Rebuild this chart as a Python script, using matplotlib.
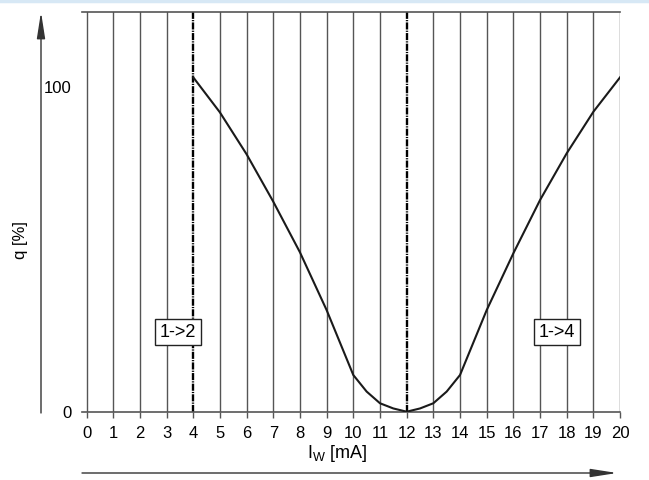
import matplotlib.pyplot as plt
import matplotlib.lines as mlines

# curve (q in % vs I_W in mA)
current_ma = [4, 5, 6, 7, 8, 9, 10, 10.5, 11, 11.5, 12, 12.5, 13, 13.5, 14, 15, 16, 17, 18, 19, 20]
q_percent = [103, 92.2, 79.3, 64.7, 49.1, 31.3, 11.3, 6.2, 2.6, 1.0, 0, 1.0, 2.6, 6.2, 11.3, 31.3, 48.8, 65.2, 79.6, 92.4, 103]

x_ticks = list(range(0, 21))
y_ticks = [0, 100]
dashed_at = [4, 12]
box_labels = ["1->2", "1->4"]
box_x = [3.43, 17.64]
box_y = [24.5, 24.5]

plt.rcParams['font.family'] = ['Liberation Sans', 'DejaVu Sans']

fig = plt.figure(figsize=(6.49, 4.8), dpi=100)
ax = fig.add_axes([81.7 / 649, (480 - 411.7) / 480, (620.1 - 81.7) / 649, 400 / 480])
ax.set_xlim(-0.18, 20.0)
ax.set_ylim(0, 123.2)

# vertical grid, thick dash-dot at the switch points
for xv in x_ticks:
    if xv in dashed_at:
        ax.axvline(xv, color='black', lw=1.7, ls=(0, (3, 0.5, 0.5, 0.5)), zorder=2)
    else:
        ax.axvline(xv, color='#555555', lw=1.0, zorder=1)

ax.plot(current_ma, q_percent, color='#1a1a1a', lw=1.5, zorder=3)

for lab, bx, by in zip(box_labels, box_x, box_y):
    ax.text(bx, by, lab, ha='center', va='center', fontsize=13, zorder=4,
            bbox=dict(boxstyle='square,pad=0.25', fc='white', ec='#222222', lw=1.0))

for side in ['left', 'right']:
    ax.spines[side].set_visible(False)
for side in ['top', 'bottom']:
    ax.spines[side].set_color('#555555')
    ax.spines[side].set_linewidth(1.2)

ax.set_xticks(x_ticks)
ax.set_xticklabels([str(v) for v in x_ticks])
ax.set_yticks(y_ticks)
ax.set_yticklabels([str(v) for v in y_ticks])
ax.tick_params(axis='x', direction='out', length=4, width=1.0, color='#555555', labelsize=12, pad=6)
ax.tick_params(axis='y', length=0, labelsize=12, pad=7)

# axis arrows outside the plot area
ax.annotate('', xy=(41, 468), xytext=(41, 67), xycoords='figure pixels', textcoords='figure pixels',
            arrowprops=dict(arrowstyle='-|>,head_length=1.6,head_width=0.25', mutation_scale=10,
                            color='#333333', lw=1.0, shrinkA=0, shrinkB=0))
ax.annotate('', xy=(617, 7), xytext=(82, 7), xycoords='figure pixels', textcoords='figure pixels',
            arrowprops=dict(arrowstyle='-|>,head_length=1.6,head_width=0.25', mutation_scale=10,
                            color='#333333', lw=1.0, shrinkA=0, shrinkB=0))

fig.text(21 / 649, 1 - 240 / 480, 'q [%]', rotation=90, ha='center', va='center', fontsize=12)
fig.text(337 / 649, 1 - 453 / 480, r'I$_\mathregular{W}$ [mA]', ha='center', va='center', fontsize=13)

# light blue strip along the top edge
fig.add_artist(mlines.Line2D([0, 1], [0.997, 0.997], transform=fig.transFigure, color='#d7e8f5', lw=2.5))

fig.savefig('out.png', dpi=100)
